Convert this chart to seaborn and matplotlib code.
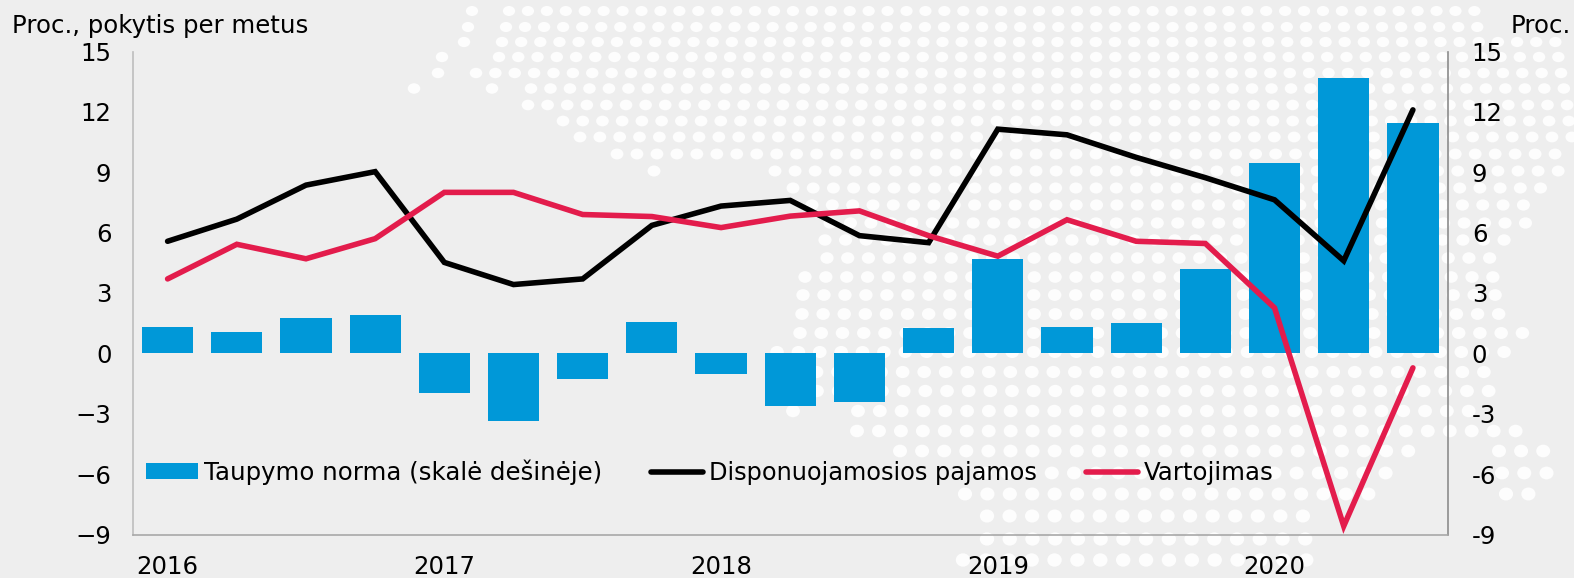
import numpy as np
import pandas as pd
import matplotlib
matplotlib.use("Agg")
import matplotlib.pyplot as plt
from matplotlib.patches import Ellipse
import seaborn as sns

# --- data -------------------------------------------------------------
quarters = [f"{y} Q{q}" for y in range(2016, 2021) for q in range(1, 5)][:19]
savings_rate = [1.3, 1.05, 1.75, 1.93, -1.98, -3.35, -1.25, 1.55, -1.0, -2.6,
                -2.4, 1.27, 4.7, 1.3, 1.52, 4.2, 9.45, 13.7, 11.43]
disposable_income = [5.57, 6.67, 8.36, 9.03, 4.52, 3.42, 3.7, 6.36, 7.32, 7.6,
                     5.85, 5.5, 11.14, 10.86, 9.74, 8.73, 7.63, 4.6, 12.1]
consumption = [3.7, 5.42, 4.7, 5.7, 8.0, 8.0, 6.9, 6.8, 6.25, 6.82,
               7.08, 5.85, 4.83, 6.64, 5.57, 5.46, 2.26, -8.58, -0.72]
year_labels = ["2016", "2017", "2018", "2019", "2020"]
year_positions = [0, 4, 8, 12, 16]
y_ticks = [-9, -6, -3, 0, 3, 6, 9, 12, 15]
left_labels = ["\u22129", "\u22126", "\u22123", "0", "3", "6", "9", "12", "15"]
right_labels = ["-9", "-6", "-3", "0", "3", "6", "9", "12", "15"]

# --- decorative dotted map behind the chart (row y, [x start, x end] runs), in pixels
map_rows = [
    (11, [(472, 472), (509, 1490)]),
    (27, [(468, 468), (506, 1490)]),
    (42, [(464, 464), (502, 1574)]),
    (57, [(442, 442), (499, 1574)]),
    (73, [(438, 438), (476, 1574)]),
    (88.5, [(414, 414), (492, 492), (531, 1574)]),
    (105, [(528, 1574)]),
    (121, [(563, 1574)]),
    (137, [(580, 1574)]),
    (154, [(617, 1574)]),
    (171, [(654, 654), (775, 1558)]),
    (188, [(793, 1560)]),
    (205, [(812, 1524)]),
    (223, [(830, 1527)]),
    (240, [(825, 1509)]),
    (258, [(827, 1491)]),
    (277, [(805, 1495)]),
    (295, [(803, 1498)]),
    (314, [(802, 1500)]),
    (333, [(800, 1525)]),
    (352, [(777, 1507)]),
    (372, [(795, 1489)]),
    (391, [(817, 1491)]),
    (411, [(793, 793), (858, 1472)]),
    (431, [(857, 1520)]),
    (451, [(900, 1412), (1499, 1545)]),
    (473, [(985, 1393), (1502, 1548)]),
    (494, [(965, 1372), (1506, 1529)]),
    (516, [(987, 1306)]),
    (539, [(987, 1308)]),
    (560, [(963, 1310)]),
]

BG = "#eeeeee"
BLUE = "#0098d8"
RED = "#e31c4c"
FS = 17.6

sns.set_theme(style="white")
plt.rcParams["font.family"] = ["DejaVu Sans"]

W, H = 1574, 578
fig = plt.figure(figsize=(W / 100, H / 100), dpi=100, facecolor=BG)

bg = fig.add_axes([0, 0, 1, 1], zorder=0)
bg.set_xlim(0, W)
bg.set_ylim(H, 0)
bg.axis("off")
for y, runs in map_rows:
    step = 18.85 + 0.0072 * y
    w = 12.2 + 0.004 * y
    h = 10.0 + 0.006 * y
    for x0, x1 in runs:
        x = x0
        while x <= x1 + 0.5:
            bg.add_patch(Ellipse((x, y), w, h, fc="#fdfdfd", ec="none"))
            x += step

left, right, top, bottom = 133, 1447.5, 51.5, 534.5
rect = [left / W, 1 - bottom / H, (right - left) / W, (bottom - top) / H]
ax = fig.add_axes(rect, zorder=2)
ax.patch.set_visible(False)
ax2 = ax.twinx()
ax2.set_zorder(1)
ax2.patch.set_visible(False)

df = pd.DataFrame({
    "pos": np.arange(len(quarters)),
    "quarter": quarters,
    "savings": savings_rate,
    "income": disposable_income,
    "consumption": consumption,
})

sns.barplot(data=df, x="pos", y="savings", ax=ax2, native_scale=True,
            width=0.74, color=BLUE, saturation=1, linewidth=0)
sns.lineplot(data=df, x="pos", y="income", ax=ax, color="black", linewidth=4,
             solid_capstyle="round", solid_joinstyle="miter", sort=False)
sns.lineplot(data=df, x="pos", y="consumption", ax=ax, color=RED, linewidth=4,
             solid_capstyle="round", solid_joinstyle="miter", sort=False)

for a in (ax, ax2):
    a.set_xlim(-0.5, 18.5)
    a.set_ylim(-9, 15)
    a.set_xlabel("")
    a.set_ylabel("")
    a.grid(False)

ax.set_xticks(year_positions, year_labels)
ax.set_yticks(y_ticks, left_labels)
ax2.set_yticks(y_ticks, right_labels)
ax.tick_params(axis="y", length=0, pad=15.5, labelsize=FS, labelcolor="black")
ax.tick_params(axis="x", length=0, pad=15, labelsize=FS, labelcolor="black")
ax2.tick_params(axis="y", length=0, pad=17.5, labelsize=FS, labelcolor="black")

for s in ("top", "right"):
    ax.spines[s].set_visible(False)
for s in ("top", "left", "bottom"):
    ax2.spines[s].set_visible(False)
ax.spines["left"].set_color("#bdbdbd")
ax.spines["bottom"].set_color("#a8a8a8")
ax2.spines["right"].set_color("#8c8c8c")
for sp in (ax.spines["left"], ax.spines["bottom"], ax2.spines["right"]):
    sp.set_linewidth(1.2)

handles = [ax2.containers[0][0], ax.lines[0], ax.lines[1]]
labels = ["Taupymo norma (skal\u0117 de\u0161in\u0117je)", "Disponuojamosios pajamos", "Vartojimas"]
leg = ax.legend(handles, labels, ncol=3, frameon=False, fontsize=FS,
                loc="center left",
                bbox_to_anchor=((146 - left) / (right - left), (bottom - 472) / (bottom - top)),
                borderaxespad=0, borderpad=0, handlelength=2.13, handleheight=0.6,
                handletextpad=0.25, columnspacing=2.0, labelcolor="black")
leg.get_texts()[1].set_fontsize(17.25)

fig.text(12 / W, 1 - 33 / H, "Proc., pokytis per metus", fontsize=FS, color="black", ha="left", va="baseline")
fig.text(1574 / W - 3 / W, 1 - 33 / H, "Proc.", fontsize=FS, color="black", ha="right", va="baseline")

fig.savefig("out.png", dpi=100, facecolor=BG)
